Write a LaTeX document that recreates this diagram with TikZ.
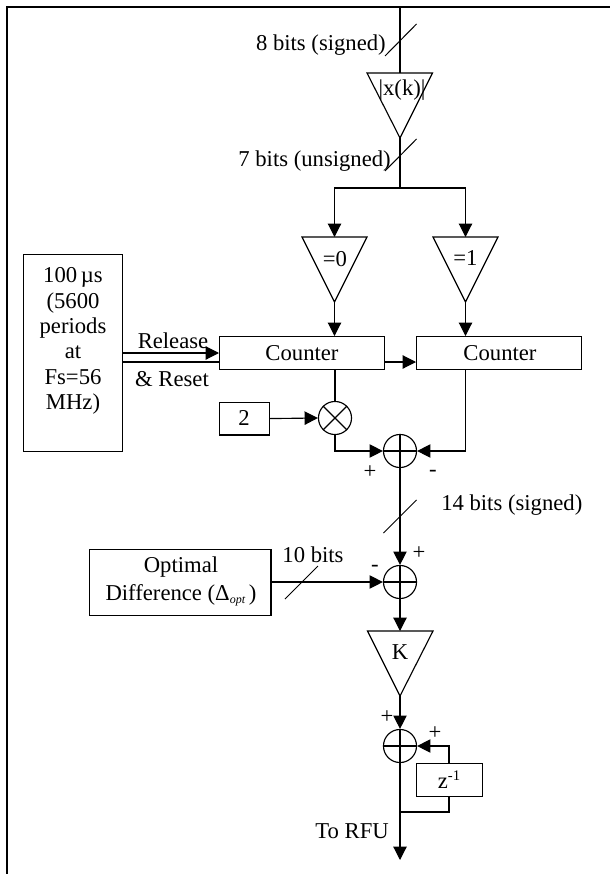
\documentclass[tikz,border=0pt]{standalone}
\usepackage{fontspec}
\setmainfont{Liberation Serif}
\usetikzlibrary{arrows.meta,shapes.geometric}
\tikzset{
  x=0.75pt,y=-0.75pt,
  wire/.style={line width=0.85pt},
  arr/.style={wire,-{Triangle[length=10pt,width=10pt]},shorten >=0pt},
  boxn/.style={draw,line width=0.85pt,rectangle,inner sep=0pt,anchor=north west,align=center},
  circ/.style={draw,line width=0.85pt,circle,minimum size=24.8pt,inner sep=0pt},
  lab/.style={inner sep=0pt,font=\fontsize{17}{19}\selectfont},
  sgn/.style={inner sep=0pt,font=\fontsize{17}{19}\selectfont},
  tick/.style={line width=0.75pt},
  frameline/.style={line width=1.7pt}
}
\begin{document}
\begin{tikzpicture}
\useasboundingbox (0,0) rectangle (610,874);
\fill[white] (0,0) rectangle (610,874);
% frame
\draw[frameline] (7,874) -- (7,7) -- (610,7);
% triangles
\coordinate (t1a) at (367,73); \coordinate (t1b) at (432.5,73); \coordinate (t1c) at (400,138);
\draw[wire] (t1a) -- (t1b) -- (t1c) -- cycle;
\node[lab] (t1) at (402,90) {|x(k)|};
\coordinate (t2a) at (302,237); \coordinate (t2b) at (367,237); \coordinate (t2c) at (334.5,302);
\draw[wire] (t2a) -- (t2b) -- (t2c) -- cycle;
\node[lab] (t2) at (335,259) {=0};
\coordinate (t3a) at (433,237); \coordinate (t3b) at (498,237); \coordinate (t3c) at (465.5,302);
\draw[wire] (t3a) -- (t3b) -- (t3c) -- cycle;
\node[lab] (t3) at (465.5,258) {=1};
\coordinate (t4a) at (367.5,631); \coordinate (t4b) at (433,631); \coordinate (t4c) at (400,696);
\draw[wire] (t4a) -- (t4b) -- (t4c) -- cycle;
\node[lab] (t4) at (400,652) {K};
% boxes
\node[boxn,minimum width=123.4pt,minimum height=24.6pt] (c1) at (219,336) {};
\node[lab] at (302,353) {Counter};
\node[boxn,minimum width=123.4pt,minimum height=24.6pt] (c2) at (416,336) {};
\node[lab] at (500,353) {Counter};
\node[boxn,minimum width=74pt,minimum height=148pt] (timer) at (23,254) {};
\node[lab,align=center] at (73,341) {100\,µs\\(5600\\periods\\at\\Fs=56\\MHz)};
\node[boxn,minimum width=37.4pt,minimum height=24.6pt] (two) at (219,401.6) {};
\node[lab] at (244,418) {2};
\node[boxn,minimum width=136.4pt,minimum height=49.4pt] (opt) at (88.5,549) {};
\node[lab,align=center] at (181,581) {Optimal\\[2.2pt]Difference (Δ\raisebox{-2pt}{\fontsize{9}{10}\selectfont\itshape opt}\,)};
\node[boxn,minimum width=49.4pt,minimum height=24.6pt] (zd) at (416,763) {};
\node[lab] at (449,780) {z\raisebox{6pt}{\fontsize{11}{12}\selectfont -1}};
% circles
\node[circ] (mul) at (335,418) {};
\draw[wire] (mul.north west) -- (mul.south east) (mul.north east) -- (mul.south west);
\node[circ] (s1) at (400,451) {};
\draw[wire] (s1.north) -- (s1.south) (s1.west) -- (s1.east);
\node[circ] (s2) at (400,582) {};
\draw[wire] (s2.north) -- (s2.south) (s2.west) -- (s2.east);
\node[circ] (s3) at (400,746) {};
\draw[wire] (s3.north) -- (s3.south) (s3.west) -- (s3.east);
% connectors
\coordinate (top) at (400,7);
\coordinate (split) at (400,188);
\draw[wire] (top) -- (t1c |- t1a);
\draw[wire] (t1c) -- (split);
\draw[arr] (split) -| (t2a -| t2c);
\draw[arr] (split) -| (t3a -| t3c);
\draw[arr] (t2c) -- (t2c |- c1.north);
\draw[arr] (t3c) -- (t3c |- c2.north);
\draw[arr] (timer.east |- 0,353) -- (c1.west |- 0,353);
\draw[wire] (timer.east |- 0,362) -- (c1.west |- 0,362);
\draw[arr] (c1.east |- 0,362) -- (c2.west |- 0,362);
\draw[arr] (two.east) -- (mul.west);
\draw[wire] (mul.north |- c1.south) -- (mul.north);
\draw[arr] (mul.south) |- (s1.west);
\draw[arr] (c2.south -| t3c) |- (s1.east);
\draw[arr] (s1.south) -- (s2.north);
\draw[arr] (opt.east |- s2.west) -- (s2.west);
\draw[arr] (s2.south) -- (t4a -| s2.south);
\draw[arr] (t4c) -- (s3.north);
\coordinate (fbx) at (449,0);
\draw[arr] (zd.north -| fbx) |- (s3.east);
\coordinate (fb) at (400,812);
\draw[wire] (zd.south -| fbx) |- (fb);
\coordinate (outend) at (400,860);
\draw[arr] (s3.south) -- (outend);
% bus ticks
\coordinate (b1a) at (385,56); \coordinate (b1b) at (416.5,24);
\draw[tick] (b1a) -- (b1b);
\coordinate (b2a) at (385,171); \coordinate (b2b) at (416.5,139);
\draw[tick] (b2a) -- (b2b);
\coordinate (b3a) at (383.5,533); \coordinate (b3b) at (416.5,500);
\draw[tick] (b3a) -- (b3b);
\coordinate (b4a) at (285,599); \coordinate (b4b) at (318,566);
\draw[tick] (b4a) -- (b4b);
% labels
\node[lab,anchor=east] (l1) at (386,45) {8 bits (signed)};
\node[lab,anchor=east] (l2) at (391,161) {7 bits (unsigned)};
\node[lab,anchor=west] (l3) at (441,505) {14 bits (signed)};
\node[lab] (l4) at (313,555) {10 bits};
\node[lab] (l5) at (173,341) {Release};
\node[lab] (l6) at (172,379) {\&\ Reset};
\node[lab,anchor=east] (l7) at (389,831) {To RFU};
\node[sgn] at (370,472) {+};
\node[sgn] at (433,473) {-};
\node[sgn] at (419,553) {+};
\node[sgn] at (375,568) {-};
\node[sgn] at (387,717) {+};
\node[sgn] at (435,733) {+};
\end{tikzpicture}
\end{document}
